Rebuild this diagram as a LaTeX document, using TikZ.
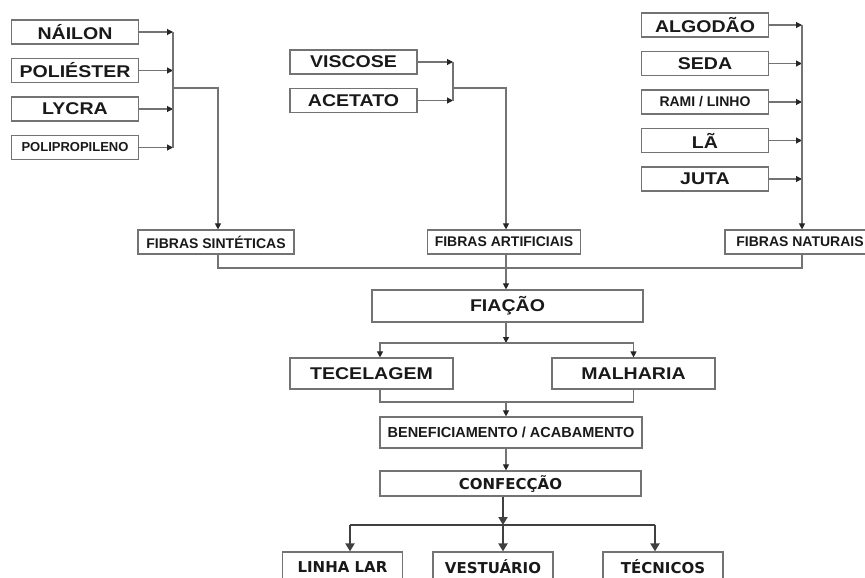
\documentclass[tikz,border=0pt]{standalone}
\usepackage{fontspec}
\setmainfont{Liberation Sans}
\newfontfamily\widefont[FakeStretch=1.15]{Liberation Sans}
\newfontfamily\lowfont{DejaVu Sans}
\usetikzlibrary{positioning, arrows.meta, calc}

\begin{document}
\begin{tikzpicture}[
  x=1pt, y=-1pt,
  node distance=13.3pt,
  itembox/.style={draw=black!55, line width=1.2pt, minimum width=127pt, minimum height=24pt, inner sep=0pt, align=center, text=black!90, font=\widefont\bfseries\fontsize{17}{17}\selectfont},
  smallitem/.style={itembox, font=\bfseries\fontsize{13}{13}\selectfont},
  groupbox/.style={draw=black!55, line width=1.2pt, minimum height=24pt, inner sep=0pt, align=center, text=black!90, font=\bfseries\fontsize{14}{14}\selectfont},
  stagebox/.style={draw=black!55, line width=1.2pt, minimum height=31pt, inner sep=0pt, align=center, text=black!90, font=\widefont\bfseries\fontsize{17}{17}\selectfont},
  endbox/.style={draw=black!55, line width=1.2pt, minimum width=120pt, minimum height=30pt, inner sep=0pt, align=center, text=black!90, font=\lowfont\bfseries\fontsize{15}{15}\selectfont},
  line/.style={draw=black!55, line width=1.1pt},
  arrow/.style={line, -{Triangle[width=6pt,length=6pt,color=black!85]}},
  thickline/.style={draw=black!75, line width=2pt},
  thickarrow/.style={thickline, -{Triangle[width=9pt,length=8pt]}},
]
  \useasboundingbox (0,0) rectangle (865,578);

  % Synthetic fibres
  \node (nailon) [itembox] at (75,32) {NÁILON};
  \node (poliester) [itembox, below=of nailon] {POLIÉSTER};
  \node (lycra) [itembox, below=of poliester] {LYCRA};
  \node (polipropileno) [smallitem, below=of lycra] {POLIPROPILENO};

  % Artificial fibres
  \node (viscose) [itembox] at (353.5,62) {VISCOSE};
  \node (acetato) [itembox, below=of viscose] {ACETATO};

  % Natural fibres
  \node (algodao) [itembox] at (705,25) {ALGODÃO};
  \node (seda) [itembox, below=of algodao] {SEDA};
  \node (rami) [itembox, below=of seda, font=\bfseries\fontsize{14}{14}\selectfont] {RAMI / LINHO};
  \node (la) [itembox, below=of rami] {LÃ};
  \node (juta) [itembox, below=of la] {JUTA};

  % Fibre groups
  \node (sinteticas) [groupbox, minimum width=156pt] at (216,242) {FIBRAS SINTÉTICAS};
  \node (artificiais) [groupbox, minimum width=153pt] at (504,242) {FIBRAS ARTIFICIAIS};
  \node (naturais) [groupbox, minimum width=150pt] at (800,242) {FIBRAS NATURAIS};

  % Process chain
  \node (fiacao) [stagebox, minimum width=271pt, minimum height=32pt] at (507.5,306) {FIAÇÃO};
  \node (tecelagem) [stagebox, minimum width=163pt] at (371.5,373.5) {TECELAGEM};
  \node (malharia) [stagebox, minimum width=163pt] at (633.5,373.5) {MALHARIA};
  \node (beneficiamento) [stagebox, minimum width=262pt, font=\bfseries\fontsize{14.5}{14.5}\selectfont] at (511,432.5) {BENEFICIAMENTO / ACABAMENTO};
  \node (confeccao) [endbox, minimum width=261pt, minimum height=25pt] at (510.5,483.5) {CONFECÇÃO};

  % Final products
  \node (linhalar) [endbox] at (342.5,567) {LINHA LAR};
  \node (vestuario) [endbox] at (493,567) {VESTUÁRIO};
  \node (tecnicos) [endbox] at (663,567) {TÉCNICOS};

  % Junction points
  \coordinate (sbus) at (173,88);
  \coordinate (abus) at (453,88);
  \coordinate (fjoin) at (506,268);
  \coordinate (split) at (506,343);
  \coordinate (merge) at (506,402);
  \coordinate (branch) at (503,525);

  % Fibres into their groups
  \foreach \n in {nailon,poliester,lycra,polipropileno} {
    \draw [arrow] (\n.east) -- (\n.east -| sbus);
  }
  \draw [line] (nailon.east -| sbus) -- (polipropileno.east -| sbus);
  \draw [arrow] (sbus) -| ([xshift=2pt]sinteticas.north);

  \foreach \n in {viscose,acetato} {
    \draw [arrow] (\n.east) -- (\n.east -| abus);
  }
  \draw [line] (viscose.east -| abus) -- (acetato.east -| abus);
  \draw [arrow] (abus) -| ([xshift=2pt]artificiais.north);

  \foreach \n in {algodao,seda,rami,la,juta} {
    \draw [arrow] (\n.east) -- ([xshift=2pt]\n.east -| naturais.north);
  }
  \draw [arrow] ([xshift=2pt]algodao.east -| naturais.north) -- ([xshift=2pt]naturais.north);

  % Groups into spinning
  \draw [line] ([xshift=2pt]sinteticas.south) |- ([xshift=2pt]naturais.south |- fjoin) -- ([xshift=2pt]naturais.south);
  \draw [arrow] ([xshift=2pt]artificiais.south) -- (fjoin |- fiacao.north);

  % Spinning to weaving / knitting
  \draw [arrow] (fjoin |- fiacao.south) -- (split);
  \draw [arrow] (split) -| ([xshift=8.5pt]tecelagem.north);
  \draw [arrow] (split) -| (malharia.north);

  % Weaving / knitting to finishing
  \draw [line] ([xshift=8.5pt]tecelagem.south) |- (malharia.south |- merge) -- (malharia.south);
  \draw [arrow] (merge) -- (merge |- beneficiamento.north);
  \draw [arrow] (merge |- beneficiamento.south) -- (merge |- confeccao.north);

  % Garment making to products
  \draw [thickarrow] (branch |- confeccao.south) -- (branch);
  \draw [thickline] ([xshift=7.5pt]linhalar.north |- branch) -- ([xshift=-8pt]tecnicos.north |- branch);
  \foreach \n/\dx in {linhalar/7.5, vestuario/10, tecnicos/-8} {
    \draw [thickarrow] ([xshift=\dx pt]\n.north |- branch) -- ([xshift=\dx pt]\n.north);
  }
\end{tikzpicture}
\end{document}
